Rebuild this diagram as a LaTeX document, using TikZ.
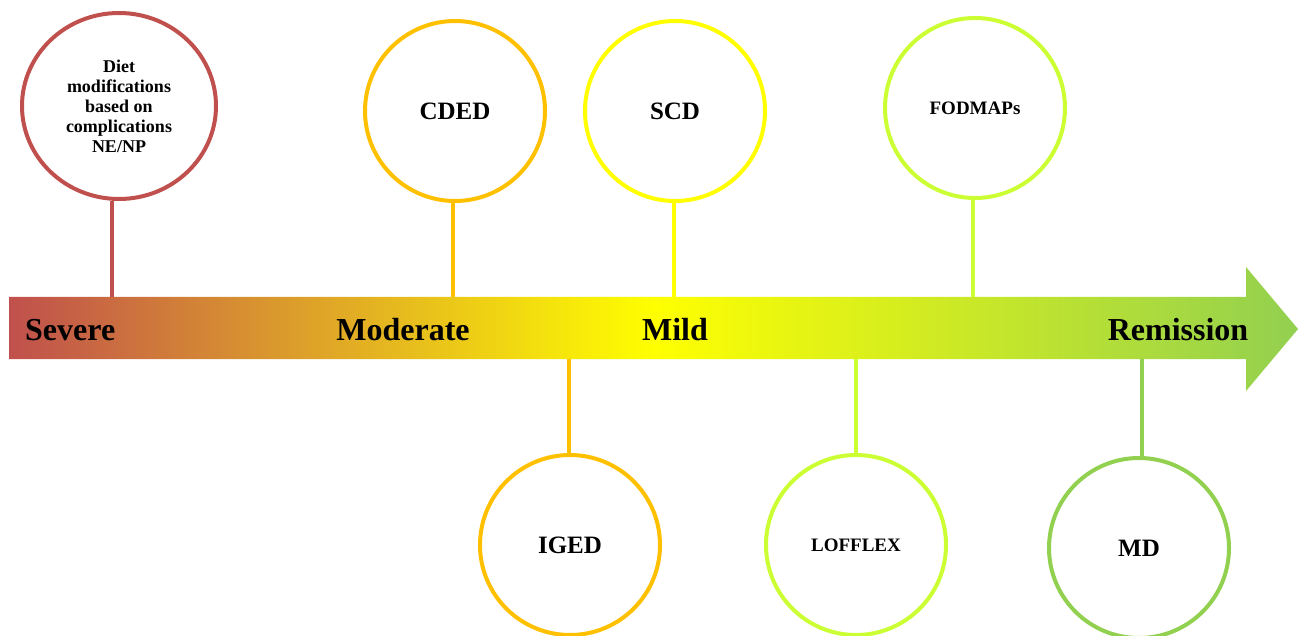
\documentclass[tikz,border=0pt]{standalone}
\usepackage{fontspec}
\setmainfont{Liberation Serif}
\usetikzlibrary{shapes.geometric}
\definecolor{cred}{HTML}{C0504D}
\definecolor{camber}{HTML}{FFC000}
\definecolor{cyel}{HTML}{FFFF00}
\definecolor{clime}{HTML}{CCFF33}
\definecolor{cgreen}{HTML}{92D050}
\pgfdeclarehorizontalshading{barshade}{100bp}{color(0bp)=(cred); color(25bp)=(cred); color(50bp)=(cyel); color(75bp)=(cgreen); color(100bp)=(cgreen)}
\begin{document}
\begin{tikzpicture}[x=1pt,y=-1pt,
  stage/.style={font=\fontsize{32}{32}\selectfont\bfseries, inner sep=0pt},
  bubble/.style={circle, line width=4pt, minimum size=180pt, inner sep=0pt, fill=white, align=center},
  btext/.style={font=\fontsize{25}{25}\selectfont\bfseries},
  stext/.style={font=\fontsize{19}{19}\selectfont\bfseries},
  link/.style={line width=4pt}]
\useasboundingbox (0,0) rectangle (1298,636);
% timeline arrow
\path[shading=barshade] (9,297) -- (1246,297) -- (1246,267) -- (1298,329) -- (1246,391) -- (1246,359) -- (9,359) -- cycle;
% stage labels
\node[stage, anchor=base west] (severe) at (25,340) {Severe};
\node[stage, anchor=base] (moderate) at (403,340) {Moderate};
\node[stage, anchor=base] (mild) at (675,340) {Mild};
\node[stage, anchor=base] (remission) at (1178,340) {Remission};
% bubbles
\node[ellipse, draw=cred, line width=4pt, minimum width=194pt, minimum height=186pt, inner sep=0pt, fill=white, align=center, font=\fontsize{18}{20}\selectfont\bfseries] (diet) at (119,106) {Diet\\modifications\\based on\\complications\\NE/NP};
\node[bubble, draw=camber, btext] (cded) at (455,111) {CDED};
\node[bubble, draw=cyel, btext] (scd) at (675,111) {SCD};
\node[bubble, draw=clime, stext] (fodmap) at (975,108) {FODMAPs};
\node[bubble, draw=camber, btext] (iged) at (570,545) {IGED};
\node[bubble, draw=clime, stext] (lofflex) at (856,545) {LOFFLEX};
\node[bubble, draw=cgreen, btext] (md) at (1139,548) {MD};
% attachment points on the bar
\coordinate (pdiet) at (112,297);
\coordinate (pcded) at (453,297);
\coordinate (pscd) at (674,297);
\coordinate (pfod) at (973,297);
\coordinate (piged) at (569,359);
\coordinate (plof) at (856,359);
\coordinate (pmd) at (1142,359);
% connectors
\draw[link, cred] (pdiet) -- (pdiet |- diet.south);
\draw[link, camber] (pcded) -- (pcded |- cded.south);
\draw[link, cyel] (pscd) -- (pscd |- scd.south);
\draw[link, clime] (pfod) -- (pfod |- fodmap.south);
\draw[link, camber] (piged) -- (piged |- iged.north);
\draw[link, clime] (plof) -- (plof |- lofflex.north);
\draw[link, cgreen] (pmd) -- (pmd |- md.north);
\end{tikzpicture}
\end{document}
